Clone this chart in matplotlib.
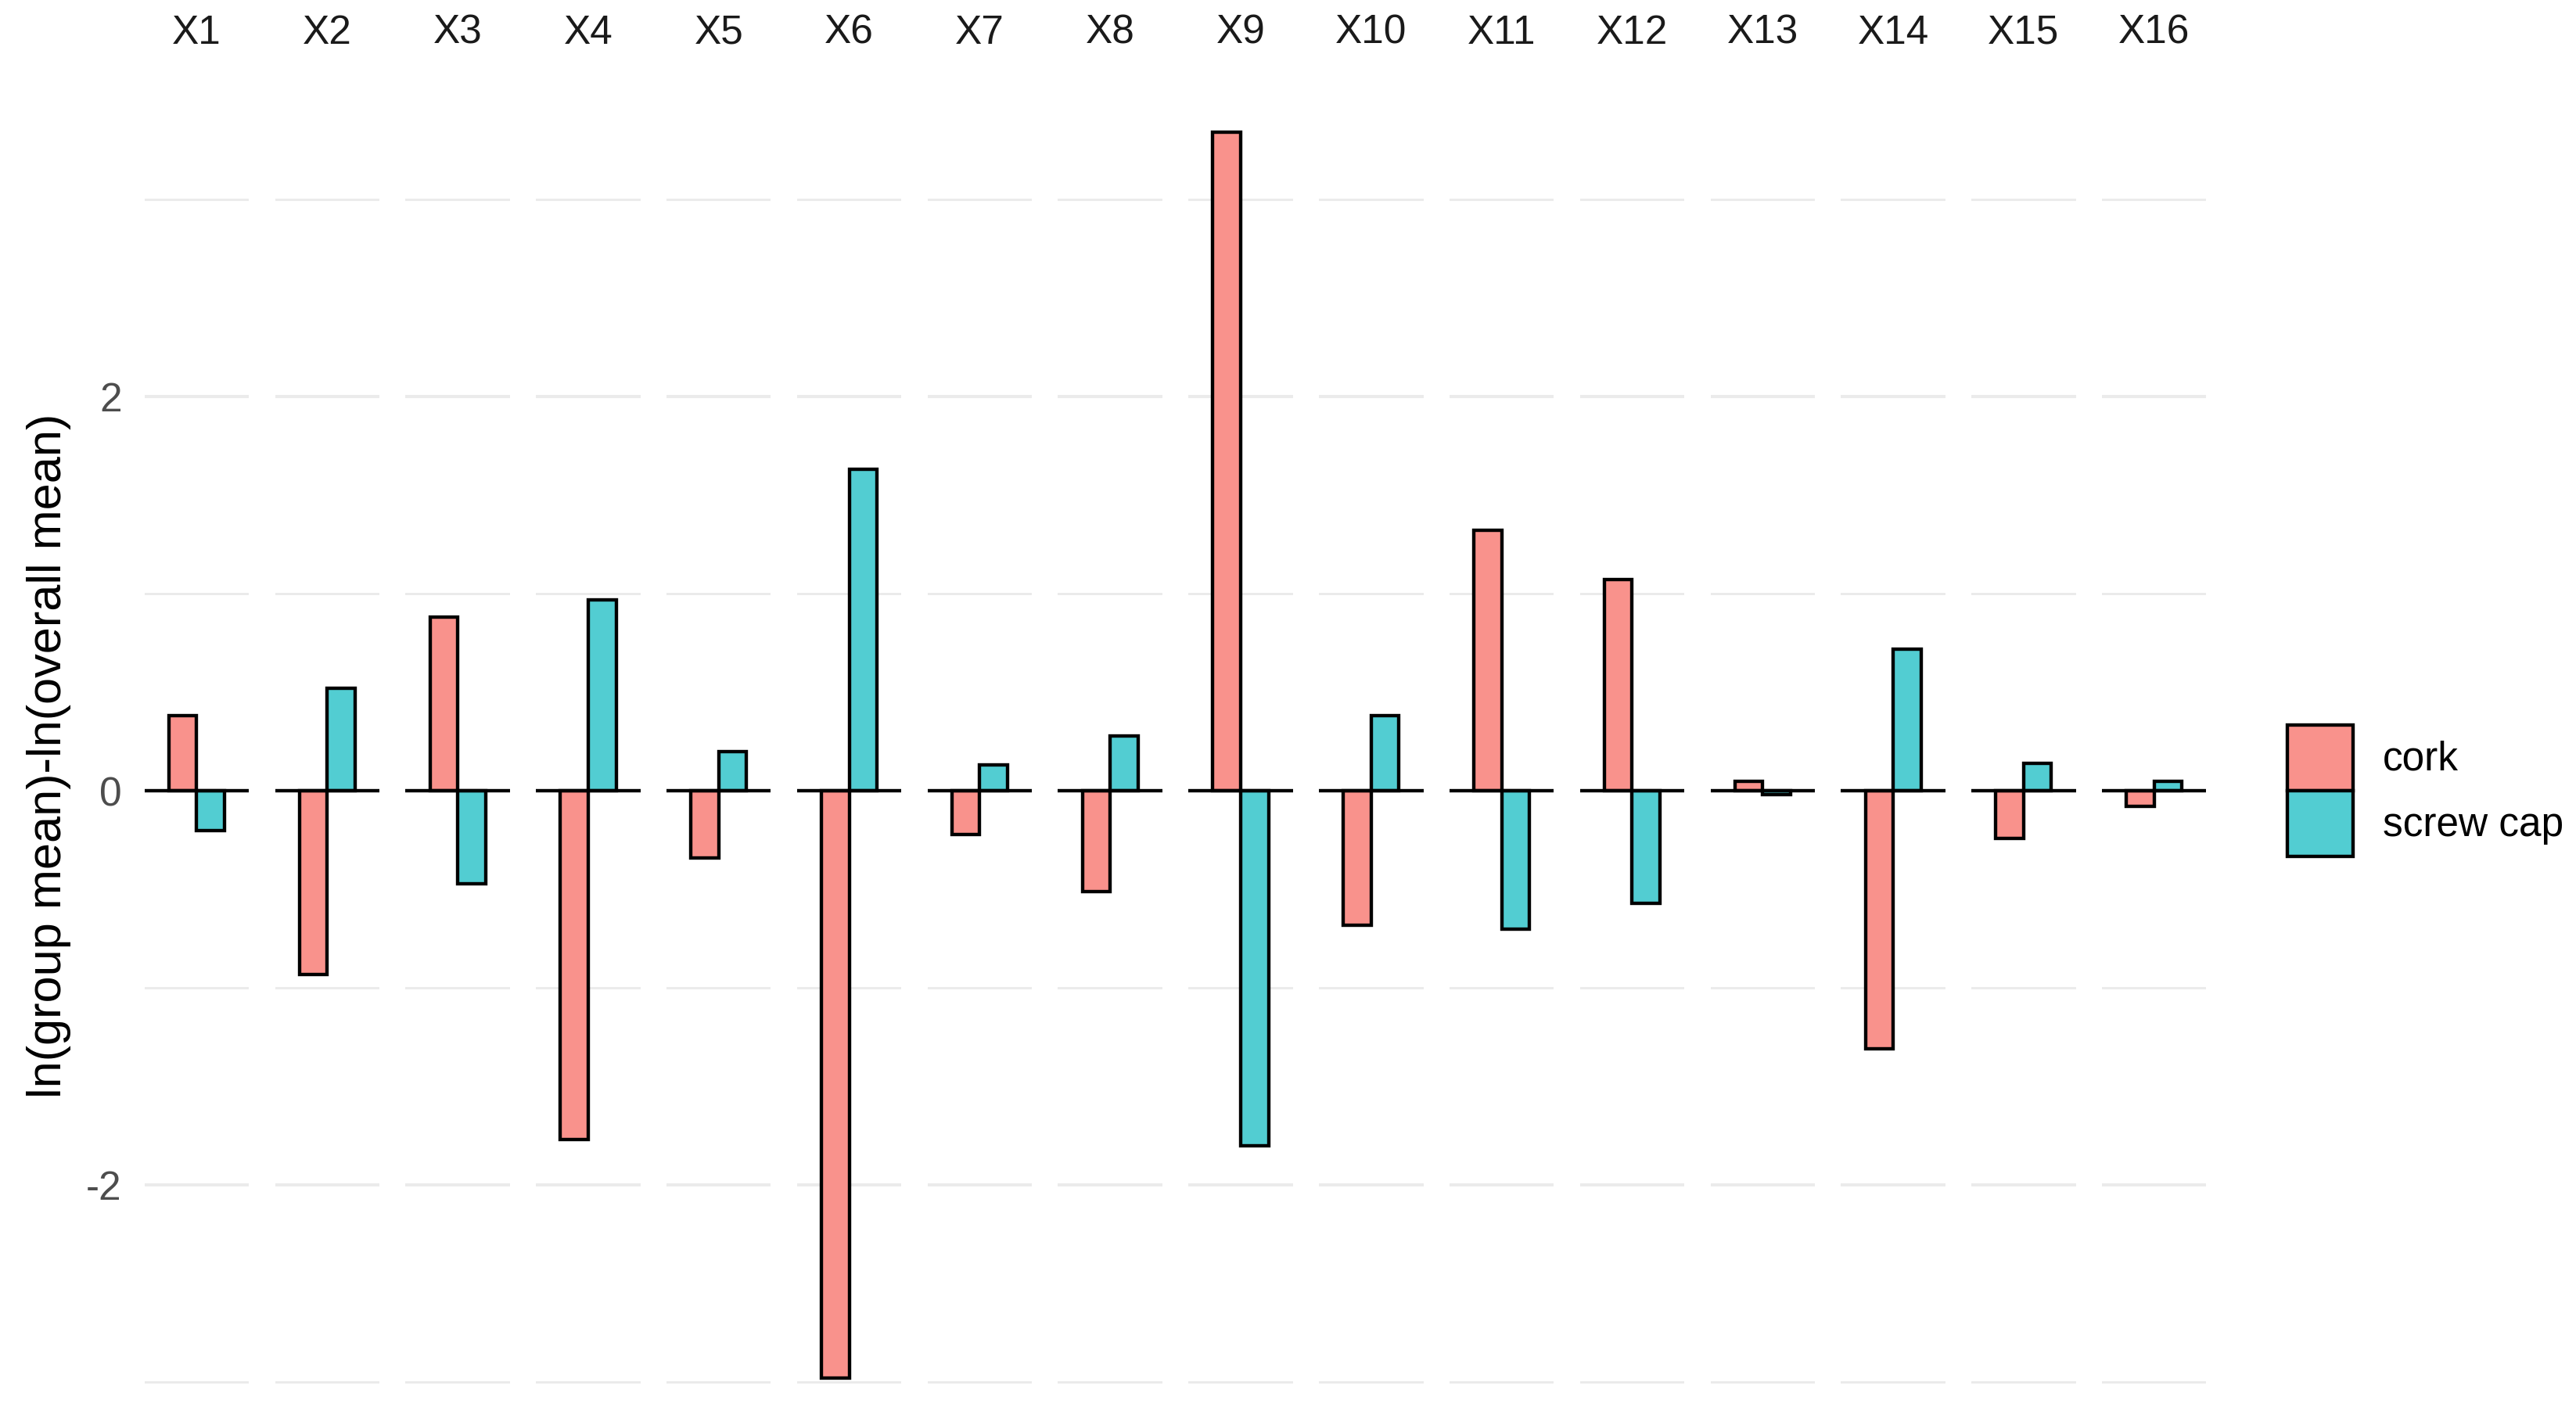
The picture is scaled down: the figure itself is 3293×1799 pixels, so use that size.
import matplotlib
matplotlib.use("Agg")
import matplotlib.pyplot as plt
from matplotlib.patches import Patch
from matplotlib.ticker import FuncFormatter

# values, one pair per facet
variables = ["X1", "X2", "X3", "X4", "X5", "X6", "X7", "X8",
             "X9", "X10", "X11", "X12", "X13", "X14", "X15", "X16"]
cork = [0.38, -0.93, 0.88, -1.77, -0.34, -2.98, -0.22, -0.51,
        3.34, -0.68, 1.32, 1.07, 0.05, -1.31, -0.24, -0.08]
screw_cap = [-0.20, 0.52, -0.47, 0.97, 0.20, 1.63, 0.13, 0.28,
             -1.80, 0.38, -0.70, -0.57, -0.02, 0.72, 0.14, 0.05]
groups = ["cork", "screw cap"]
# ggplot hues with alpha over white, as seen in the picture
fills = ["#F9928C", "#52CDD2"]

plt.rcParams['font.family'] = ['Liberation Sans', 'DejaVu Sans']

fig = plt.figure(figsize=(3293 / 210, 1799 / 210), dpi=210)
gs = fig.add_gridspec(1, len(variables), left=0.0561, right=0.8565,
                      top=0.9509, bottom=0.0, wspace=0.25)

bar_w = 0.32

for i, var in enumerate(variables):
    ax = fig.add_subplot(gs[0, i])
    ax.bar(1 - bar_w / 2, cork[i], width=bar_w, color=fills[0],
           edgecolor="black", linewidth=1.5, zorder=3)
    ax.bar(1 + bar_w / 2, screw_cap[i], width=bar_w, color=fills[1],
           edgecolor="black", linewidth=1.5, zorder=3)
    ax.axhline(0, color="black", linewidth=1.5, zorder=4)
    ax.set_xlim(0.4, 1.6)
    ax.set_ylim(-3.125, 3.66)
    ax.set_yticks([-2, 0, 2])
    ax.set_yticks([-3, -1, 1, 3], minor=True)
    ax.yaxis.set_major_formatter(FuncFormatter(lambda v, p: "%d" % v))
    ax.grid(which="major", axis="y", color="#EBEBEB", linewidth=1.4, zorder=0)
    ax.grid(which="minor", axis="y", color="#EBEBEB", linewidth=1.0, zorder=0)
    ax.set_xticks([])
    for s in ax.spines.values():
        s.set_visible(False)
    ax.tick_params(which="both", length=0)
    if i == 0:
        ax.tick_params(axis="y", labelsize=17.6, labelcolor="#4D4D4D", pad=10)
    else:
        ax.tick_params(axis="y", labelleft=False)
    pos = ax.get_position()
    fig.text((pos.x0 + pos.x1) / 2, 1 - 20 / 856, var, ha="center",
             va="center", fontsize=17.6, color="#1A1A1A")

fig.text(0.019, 0.4626, "ln(group mean)-ln(overall mean)", rotation=90,
         ha="center", va="center", fontsize=21, color="black")

handles = [Patch(facecolor=f, edgecolor="black", linewidth=1.5) for f in fills]
fig.legend(handles, groups, loc="center left", bbox_to_anchor=(0.8878, 0.438),
           frameon=False, fontsize=17.6, handlelength=1.64, handleheight=2.15,
           handletextpad=0.74, labelspacing=0.0, borderpad=0, borderaxespad=0)

fig.savefig("out.png", dpi=210, facecolor="white")
